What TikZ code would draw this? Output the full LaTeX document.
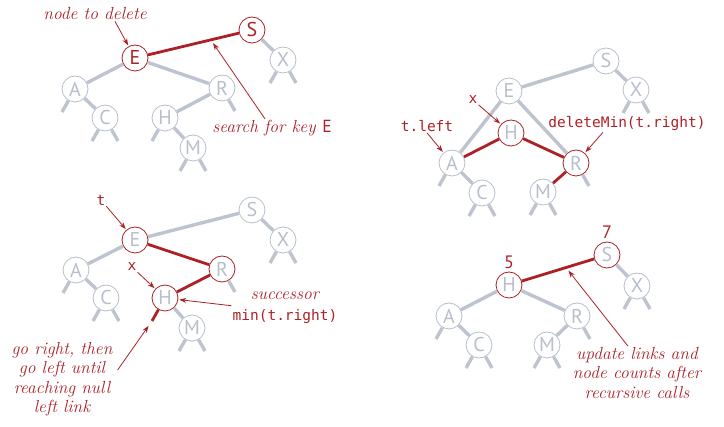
\documentclass[tikz,border=0pt]{standalone}
\usepackage{fontspec}
\setsansfont{PT Sans}
\setmonofont{DejaVu Sans Mono}
\usetikzlibrary{arrows.meta,positioning}

\definecolor{bookred}{RGB}{172,32,38}
\definecolor{linkgray}{RGB}{190,196,207}
\definecolor{keygray}{RGB}{184,191,204}

\tikzset{
    key/.style={circle, draw=keygray, fill=white, line width=0.8pt,
        minimum size=26pt, inner sep=0pt, text=keygray,
        font=\sffamily\fontsize{20}{20}\selectfont},
    hotkey/.style={key, draw=bookred},
    target/.style={hotkey, text=bookred},
    link/.style={draw=linkgray, line width=3.4pt},
    hotlink/.style={draw=bookred, line width=2.8pt},
    note/.style={text=bookred, align=center, inner sep=1pt,
        font=\itshape\fontsize{17.5}{19.5}\selectfont},
    code/.style={text=bookred, align=center, inner sep=1pt,
        font=\ttfamily\fontsize{14.5}{16}\selectfont},
    count/.style={text=bookred, inner sep=1pt,
        font=\sffamily\fontsize{18}{18}\selectfont},
    pointer/.style={draw=bookred, line width=0.8pt,
        -{Stealth[length=7pt,width=5pt]}}
}

% null links hanging below a node
\newcommand{\nullleft}[2][link]{\draw[#1] (#2) -- ++(-13,23);}
\newcommand{\nullright}[2][link]{\draw[#1] (#2) -- ++(13,23);}

\begin{document}
\begin{tikzpicture}[x=1pt, y=-1pt]
    \useasboundingbox (0,0) rectangle (724,427);

    % (1) search for the node to delete
    \node[target] (E1) at (135,58) {E};
    \node[target] (S1) at (252,30) {S};
    \node[key] (X1) at (283,60) {X};
    \node[key] (A1) at (75,89) {A};
    \node[key] (C1) at (105,118) {C};
    \node[key] (R1) at (222,88) {R};
    \node[key] (H1) at (165,118) {H};
    \node[key] (M1) at (193,148) {M};
    \draw[link] (S1) -- (X1);
    \draw[link] (E1) -- (A1);
    \draw[link] (A1) -- (C1);
    \draw[link] (E1) -- (R1);
    \draw[link] (R1) -- (H1);
    \draw[link] (H1) -- (M1);
    \draw[hotlink] (E1) -- coordinate[pos=0.69] (es-link) (S1);
    \nullleft{A1} \nullleft{C1} \nullright{C1} \nullleft{H1}
    \nullleft{M1} \nullright{M1} \nullright{R1} \nullleft{X1} \nullright{X1}
    \node[note] (del-note) at (95,14) {node to delete};
    \node[note] (search-note) at (272,128)
        {search for key \textup{\sffamily E}};
    \draw[pointer, shorten >=1pt] ([xshift=20pt]del-note.south) -- (E1);
    \draw[pointer, shorten >=4pt] ([xshift=-7pt]search-note.north) -- (es-link);

    % (2) replace by successor
    \node[key] (S2) at (606,61) {S};
    \node[key] (E2) at (509,91) {E};
    \node[key] (X2) at (636,90) {X};
    \node[hotkey] (H2) at (511,133) {H};
    \node[key] (A2) at (452,163) {A};
    \node[hotkey] (R2) at (576,163) {R};
    \node[key] (C2) at (482,193) {C};
    \node[key] (M2) at (543,192) {M};
    \draw[link] (S2) -- (E2);
    \draw[link] (S2) -- (X2);
    \draw[link] (E2) -- (A2);
    \draw[link] (E2) -- (R2);
    \draw[link] (A2) -- (C2);
    \draw[hotlink] (A2) -- (H2);
    \draw[hotlink] (H2) -- (R2);
    \draw[hotlink] (R2) -- (M2);
    \nullleft{A2} \nullleft{C2} \nullright{C2} \nullleft{M2}
    \nullright{M2} \nullright{R2} \nullleft{X2} \nullright{X2}
    \node[code] (x-two) at (473,100) {x};
    \node[code] (left-note) at (427,126) {t.left};
    \node[code] (delmin-note) at (627,124) {deleteMin(t.right)};
    \draw[pointer, shorten >=1pt] (x-two) -- (H2);
    \draw[pointer, shorten >=1pt] (left-note.south) -- (A2);
    \draw[pointer, shorten >=1pt] ([xshift=-24pt]delmin-note.south) -- (R2);

    % (3) find the successor
    \node[hotkey] (E3) at (135,240) {E};
    \node[key] (S3) at (252,210) {S};
    \node[key] (X3) at (283,240) {X};
    \node[key] (A3) at (76,270) {A};
    \node[hotkey] (R3) at (222,269) {R};
    \node[key] (C3) at (106,298) {C};
    \node[hotkey] (H3) at (165,298) {H};
    \node[key] (M3) at (192,328) {M};
    \draw[link] (E3) -- (S3);
    \draw[link] (S3) -- (X3);
    \draw[link] (E3) -- (A3);
    \draw[link] (A3) -- (C3);
    \draw[link] (H3) -- (M3);
    \draw[hotlink] (E3) -- (R3);
    \draw[hotlink] (R3) -- (H3);
    \draw[hotlink] (H3) -- ++(-13,23) coordinate (null-left);
    \nullleft{A3} \nullleft{C3} \nullright{C3} \nullright{R3}
    \nullleft{M3} \nullright{M3} \nullleft{X3} \nullright{X3}
    \node[code] (t-three) at (101,200) {t};
    \node[code] (x-three) at (132,267) {x};
    \node[note] (succ-note) at (285,296) {successor};
    \node[code] (min-note) at (285,317) {min(t.right)};
    \node[note] (go-note) at (62,379)
        {go right, then\\go left until\\reaching null\\left link};
    \draw[pointer, shorten >=1pt] (t-three) -- (E3);
    \draw[pointer, shorten >=1pt] (x-three) -- (H3);
    \draw[pointer, shorten >=1pt] ([yshift=3pt]min-note.north west) -- (H3);
    \draw[pointer, shorten >=6pt] ([shift={(4,-9)}]go-note.east) -- (null-left);

    % (4) fix links and counts on the way up
    \node[hotkey] (S4) at (607,255) {S};
    \node[hotkey] (H4) at (509,285) {H};
    \node[key] (X4) at (637,286) {X};
    \node[key] (A4) at (449,316) {A};
    \node[key] (R4) at (577,316) {R};
    \node[key] (C4) at (479,345) {C};
    \node[key] (M4) at (547,345) {M};
    \draw[link] (S4) -- (X4);
    \draw[link] (H4) -- (A4);
    \draw[link] (H4) -- (R4);
    \draw[link] (A4) -- (C4);
    \draw[link] (R4) -- (M4);
    \draw[hotlink] (H4) -- coordinate[pos=0.61] (hs-link) (S4);
    \nullleft{A4} \nullleft{C4} \nullright{C4} \nullleft{M4}
    \nullright{M4} \nullright{R4} \nullleft{X4} \nullright{X4}
    \node[count, above=2pt of S4] (cnt-s) {7};
    \node[count, above=2pt of H4] (cnt-h) {5};
    \node[note] (upd-note) at (637,373)
        {update links and\\node counts after\\recursive calls};
    \draw[pointer, shorten >=4pt] ([xshift=-9pt]upd-note.north) -- (hs-link);
\end{tikzpicture}
\end{document}
